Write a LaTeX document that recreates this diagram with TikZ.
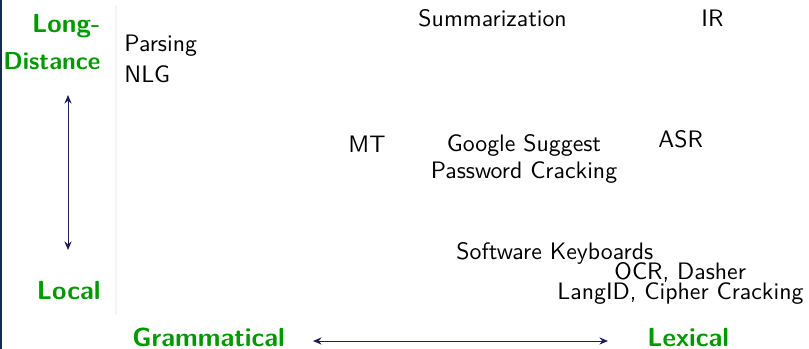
\documentclass[tikz,border=0pt]{standalone}
\usetikzlibrary{arrows.meta}
\definecolor{axisgreen}{RGB}{0,153,0}
\definecolor{axisnavy}{RGB}{30,30,90}
\definecolor{framebar}{RGB}{22,42,78}
\tikzset{
  app/.style={font=\sffamily\fontsize{10}{12}\selectfont, inner sep=0pt, text=black},
  axislbl/.style={font=\sffamily\bfseries\fontsize{11}{13}\selectfont, inner sep=0pt, text=axisgreen},
  axisarrow/.style={draw=axisnavy, line width=0.4pt, {Stealth[length=3.6pt,width=3pt]}-{Stealth[length=3.6pt,width=3pt]}}
}
\begin{document}
\begin{tikzpicture}[x=0.42pt, y=-0.42pt]
  \useasboundingbox (0,0) rectangle (809,349);
  % frame edge and faint divider
  \fill[framebar] (0,0) rectangle (2.5,349);
  \draw[black!4, line width=0.6pt] (116,5) -- (116,315);

  % axis labels
  \node[axislbl, anchor=base east] (longlbl) at (101,33) {Long-};
  \node[axislbl, anchor=base east, font=\sffamily\bfseries\fontsize{10.3}{13}\selectfont] (distlbl) at (101,70) {Distance};
  \node[axislbl, anchor=base east] (locallbl) at (101,300) {Local};
  \node[axislbl, anchor=base west] (gramlbl) at (132,347) {Grammatical};
  \node[axislbl, anchor=base west] (lexlbl) at (647,347) {Lexical};

  \coordinate (vtop) at (68,95);
  \coordinate (vbot) at (68,250);
  \coordinate (hleft) at (313,341);
  \coordinate (hright) at (608,341);
  \draw[axisarrow] (vtop) -- (vbot);
  \draw[axisarrow] (hleft) -- (hright);

  % applications
  \node[app, anchor=base west] (parsing) at (124,52) {Parsing};
  \node[app, anchor=base west] (nlg) at (124,83) {NLG};
  \node[app, anchor=base west] (summ) at (418,27) {Summarization};
  \node[app, anchor=base west] (ir) at (701,27) {IR};
  \node[app, anchor=base west] (mt) at (348,153) {MT};
  \node[app, anchor=base] (google) at (524,152) {Google Suggest};
  \node[app, anchor=base] (passwd) at (524,179) {Password Cracking};
  \node[app, anchor=base west] (asr) at (658,148) {ASR};
  \node[app, anchor=base west] (softkb) at (456,260) {Software Keyboards};
  \node[app, anchor=base west] (ocr) at (614,280) {OCR, Dasher};
  \node[app, anchor=base west] (langid) at (557,300) {LangID, Cipher Cracking};
\end{tikzpicture}
\end{document}
